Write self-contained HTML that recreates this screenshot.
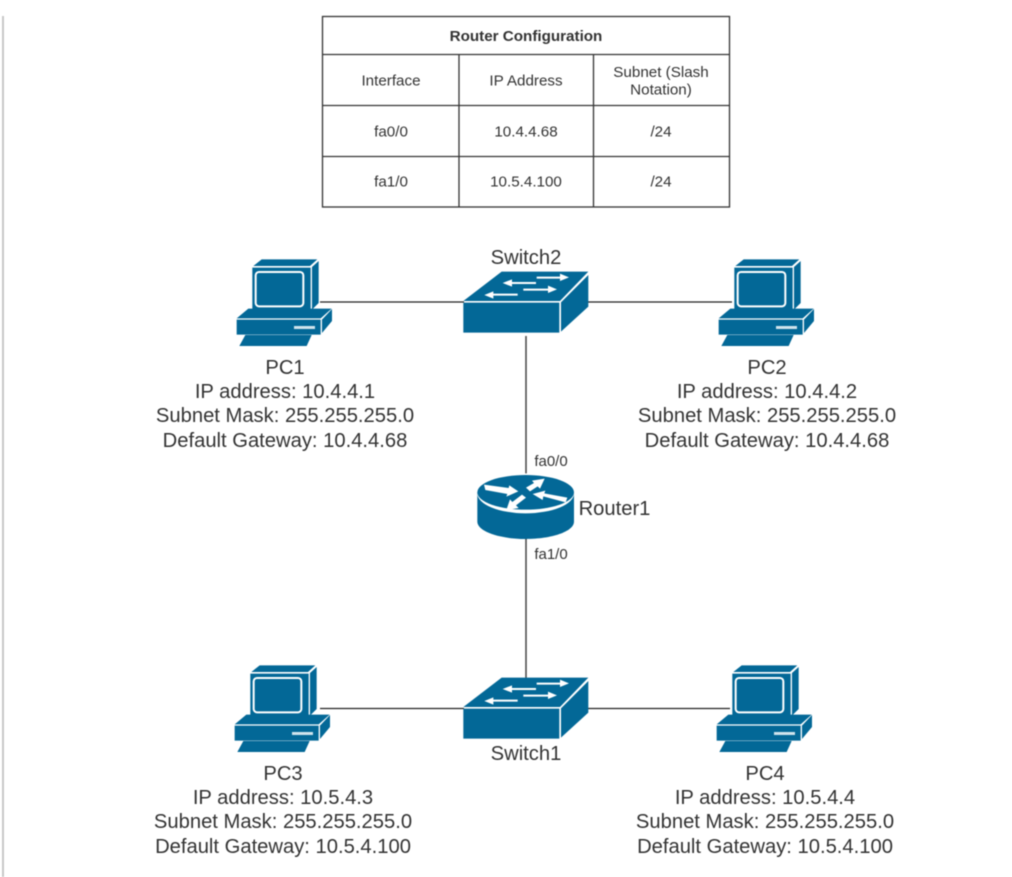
<!DOCTYPE html>
<html>
<head>
<meta charset="utf-8">
<style>
html,body{margin:0;padding:0;background:#fff;}
body{width:1012px;height:877px;overflow:hidden;position:relative;}
svg{position:absolute;left:0;top:0;filter:blur(0.4px);}
text{font-family:"Liberation Sans",sans-serif;fill:#333;text-anchor:middle;}
.l{font-size:20.2px;}
.t{font-size:15.2px;}
.s{font-size:15px;}
</style>
</head>
<body>
<svg width="1012" height="877" viewBox="0 0 1012 877">
<defs>
<symbol id="pc" overflow="visible" viewBox="0 0 130 120" width="130" height="120">
<g transform="scale(0.3333)">
<path d="M100 75L125 55H292L270 75Z" fill="#036897"/>
<path d="M97 80H272V206H97Z" fill="#036897"/>
<path d="M276 78L296 60V186L276 206Z" fill="#036897"/>
<rect x="107" y="93" width="143" height="103" rx="10" fill="#036897" stroke="#fff" stroke-width="6"/>
<path d="M50 232L85 203H335L302 232Z" fill="#036897"/>
<path d="M50 236H302V281H50Z" fill="#036897"/>
<path d="M306 236L336 204V240L306 276Z" fill="#036897"/>
<rect x="222" y="255" width="63" height="9" fill="#cfe3ec"/>
<path d="M58 315L76 282H275L260 315Z" fill="#036897"/>
</g>
</symbol>
<symbol id="sw" overflow="visible" viewBox="0 0 150 100" width="150" height="100">
<g transform="scale(0.3333)">
<path d="M40 183L155 95H415L330 183Z" fill="#036897"/>
<path d="M40 188H328V278H40Z" fill="#036897"/>
<path d="M333 187L415 105V200L333 275Z" fill="#036897"/>
<g stroke="#fff" stroke-width="6" fill="#fff">
<path d="M260 113H335" fill="none"/><path d="M357 112L330 101V123Z" stroke="none"/>
<path d="M180 129H258" fill="none"/><path d="M158 129L186 118V140Z" stroke="none"/>
<path d="M220 149H298" fill="none"/><path d="M321 148L294 137V159Z" stroke="none"/>
<path d="M125 164H203" fill="none"/><path d="M103 165L130 154V176Z" stroke="none"/>
</g>
</g>
</symbol>
</defs>

<rect x="2" y="16" width="2" height="861" fill="#c8c8c8"/>

<!-- table -->
<g fill="none" stroke="#333" stroke-width="1.3">
<rect x="322.5" y="16.5" width="407" height="190.5"/>
<path d="M322.5 54.500H729.5M322.5 105.500H729.5M322.5 156.500H729.5M459 54.500V207M593.500 54.500V207"/>
</g>
<text class="t" x="526" y="41" style="font-weight:bold">Router Configuration</text>
<text class="t" x="391" y="85.500">Interface</text>
<text class="t" x="526" y="85.500">IP Address</text>
<text class="t" x="661" y="77">Subnet (Slash</text>
<text class="t" x="661" y="94.500">Notation)</text>
<text class="t" x="391" y="136.500">fa0/0</text>
<text class="t" x="526" y="136.500">10.4.4.68</text>
<text class="t" x="661" y="136.500">/24</text>
<text class="t" x="391" y="186.500">fa1/0</text>
<text class="t" x="526" y="186.500">10.5.4.100</text>
<text class="t" x="661" y="186.500">/24</text>

<!-- connectors -->
<g stroke="#222" stroke-width="1.2" fill="none">
<path d="M320 302H464M588 302H732M320 708.500H464M588 708.500H730"/>
<path d="M526 336V678" stroke="#444" stroke-width="1.5"/>
</g>

<!-- icons -->
<use href="#pc" x="220" y="241"/>
<use href="#pc" x="702" y="241"/>
<use href="#pc" x="218" y="647"/>
<use href="#pc" x="700" y="647"/>
<use href="#sw" x="450" y="240"/>
<use href="#sw" x="450" y="646"/>

<!-- router -->
<g transform="translate(460 450) scale(0.3333)">
<path d="M52 127V215C52 245 120 267 197 267S342 245 342 215V127Z" fill="#036897"/>
<ellipse cx="197" cy="130" rx="145" ry="60" fill="#fff"/>
<ellipse cx="197" cy="127" rx="145" ry="52" fill="#036897"/>
<g fill="#fff">
<path d="M72 104L76 120L142 132L139 140L175 124L148 106L146 114Z"/>
<path d="M322 143L317 157L250 139L248 150L218 132L256 122L253 130Z"/>
<path d="M198 113L222 99L216 92L254 86L240 116L233 109L210 124Z"/>
<path d="M198 143L168 166L176 174L139 180L150 148L157 156L186 134Z"/>
</g>
</g>

<!-- labels -->
<text class="l" x="526" y="264">Switch2</text>
<text class="l" x="526" y="760">Switch1</text>
<text class="l" x="614.500" y="515">Router1</text>
<text class="s" x="551" y="466">fa0/0</text>
<text class="s" x="551" y="559">fa1/0</text>

<text class="l" x="285" y="374">PC1</text>
<text class="l" x="285" y="398">IP address: 10.4.4.1</text>
<text class="l" x="285" y="422">Subnet Mask: 255.255.255.0</text>
<text class="l" x="285" y="447">Default Gateway: 10.4.4.68</text>

<text class="l" x="767" y="374">PC2</text>
<text class="l" x="767" y="398">IP address: 10.4.4.2</text>
<text class="l" x="767" y="422">Subnet Mask: 255.255.255.0</text>
<text class="l" x="767" y="447">Default Gateway: 10.4.4.68</text>

<text class="l" x="283" y="780">PC3</text>
<text class="l" x="283" y="804">IP address: 10.5.4.3</text>
<text class="l" x="283" y="828">Subnet Mask: 255.255.255.0</text>
<text class="l" x="283" y="853">Default Gateway: 10.5.4.100</text>

<text class="l" x="765" y="780">PC4</text>
<text class="l" x="765" y="804">IP address: 10.5.4.4</text>
<text class="l" x="765" y="828">Subnet Mask: 255.255.255.0</text>
<text class="l" x="765" y="853">Default Gateway: 10.5.4.100</text>
</svg>
</body>
</html>
